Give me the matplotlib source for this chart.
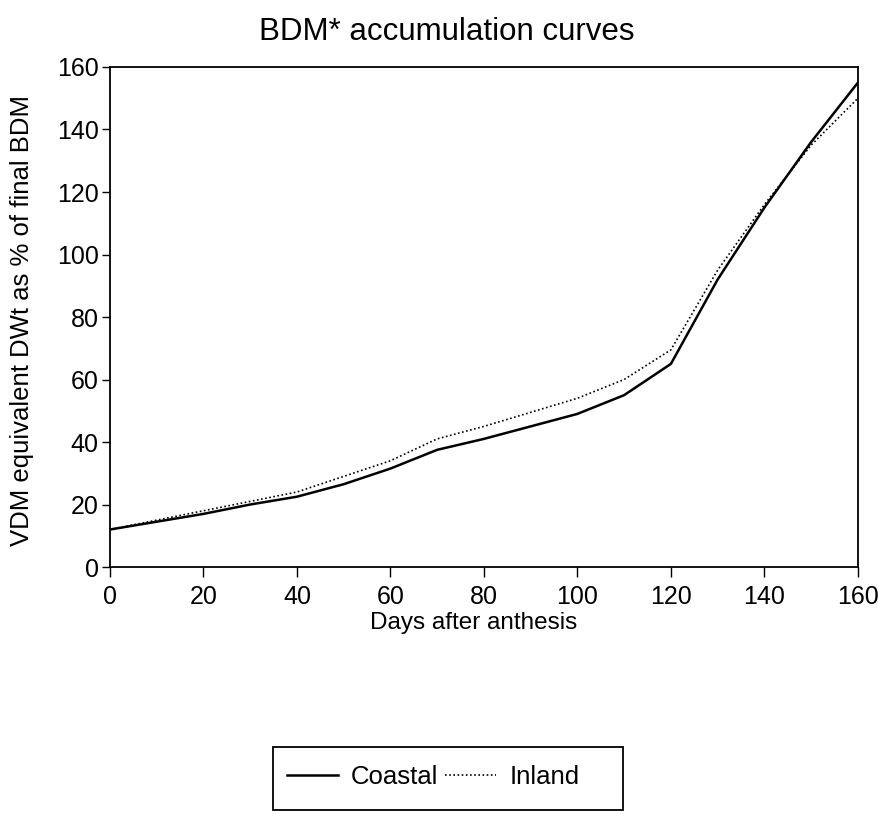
import matplotlib
matplotlib.use('Agg')
import matplotlib.pyplot as plt
from matplotlib.patches import Rectangle

# days after anthesis, every 10 days
days = [0, 10, 20, 30, 40, 50, 60, 70, 80, 90, 100, 110, 120, 130, 140, 150, 160]

# VDM equivalent DWt as % of final BDM
coastal = [12, 14.5, 17, 20, 22.5, 26.5, 31.5, 37.5, 41, 45, 49, 55, 65, 92, 115, 136, 155]
inland = [12, 15, 18, 21, 24, 29, 34, 41, 45, 49.5, 54, 60, 69.5, 95, 116, 135, 150]

x_ticks = [0, 20, 40, 60, 80, 100, 120, 140, 160]
y_ticks = [0, 20, 40, 60, 80, 100, 120, 140, 160]

plt.rcParams['font.family'] = ['Liberation Sans', 'DejaVu Sans']

fig = plt.figure(figsize=(8.79, 8.14), dpi=100)
ax = fig.add_axes([0.125, 0.3034, 0.851, 0.6143])

ax.plot(days, coastal, color='black', linestyle='-', linewidth=1.8, label='Coastal')
ax.plot(days, inland, color='black', linestyle=(0, (1, 1.5)), linewidth=1.2, label='Inland')

ax.set_xlim(0, 160)
ax.set_ylim(0, 160)
ax.set_xticks(x_ticks)
ax.set_yticks(y_ticks)
ax.tick_params(axis='x', direction='out', length=7, width=1, labelsize=18, pad=6)
ax.tick_params(axis='y', direction='out', length=6, width=1, labelsize=18, pad=2)
for side in ['left', 'bottom', 'top', 'right']:
    ax.spines[side].set_linewidth(1.3)

ax.set_xlabel('Days after anthesis', fontsize=17.5)
ax.xaxis.set_label_coords(0.486, -0.09)
ax.set_ylabel('VDM equivalent DWt as % of final BDM', fontsize=18.5)
ax.yaxis.set_label_coords(-0.102, 0.494)

fig.text(0.5085, 0.9607, 'BDM* accumulation curves', fontsize=22.5, ha='center', va='center')

# legend without its own frame, box drawn separately (it is wider than the entries)
leg = fig.legend(loc='center left', bbox_to_anchor=(0.3265, 0.046), ncol=2, fontsize=18.5,
                 frameon=False, handlelength=2, handletextpad=0.5, columnspacing=0.25,
                 borderpad=0, borderaxespad=0)
box = Rectangle((0.3106, 0.0049), 0.398, 0.0774, transform=fig.transFigure,
                fill=False, edgecolor='black', linewidth=1.3)
fig.add_artist(box)

fig.savefig('out.png', dpi=100, facecolor='white')
